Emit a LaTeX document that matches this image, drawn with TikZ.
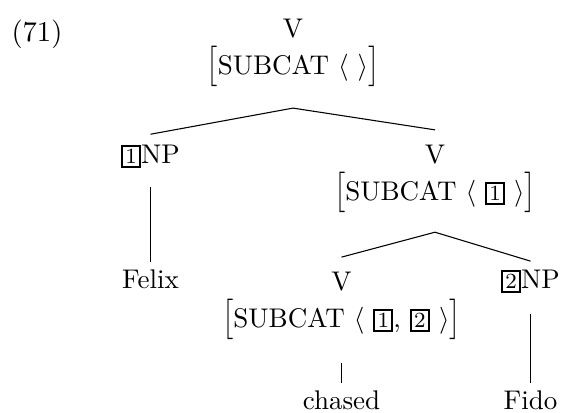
\documentclass[tikz,border=0pt]{standalone}
\usepackage{amsmath}
\usepackage{graphicx}

% boxed tag for structure sharing
\newcommand{\tagbox}[1]{{\setlength{\fboxsep}{0.8pt}\setlength{\fboxrule}{0.8pt}%
  \fbox{\footnotesize #1}}}
% one-feature matrix: SUBCAT list
\newcommand{\lbrk}{\scalebox{1}[1.25]{$\bigl[$}}
\newcommand{\rbrk}{\scalebox{1}[1.25]{$\bigr]$}}
\newcommand{\subcatavm}[1]{\lbrk SUBCAT $\langle$#1$\rangle$\rbrk}

\tikzset{
  cat/.style={inner sep=0pt, font=\normalsize},
  avm/.style={cat, align=center, anchor=north},
  word/.style={cat, anchor=base},
  branch/.style={line width=0.4pt},
}

\begin{document}
\begin{tikzpicture}[x=0.37037pt, y=-0.37037pt]
  \useasboundingbox (0,0) rectangle (561,413);
  % example number
  \node[cat, anchor=base west, font=\fontsize{10.6}{13}\selectfont] (exnum) at (11,42) {(71)};

  % mother
  \node[avm] (vtop) at (293,19) {V\\[1.7pt]\subcatavm{\ }};
  % daughters
  \node[word] (np1) at (150.5,164) {\tagbox{1}NP};
  \node[avm] (vmid) at (435,145) {V\\[1.7pt]\subcatavm{\ \tagbox{1}\ }};
  \node[word] (felix) at (150.5,289) {Felix};
  \node[avm] (vlow) at (341.5,272) {V\\[1.7pt]\subcatavm{\ \tagbox{1}, \tagbox{2}\ }};
  \node[word] (np2) at (530.5,289) {\tagbox{2}NP};
  \node[word] (chased) at (341.5,410) {chased};
  \node[word] (fido) at (530.5,410) {Fido};

  % branches
  \draw[branch] ([yshift=-7.7pt]vtop.south) -- ([yshift=3.9pt]np1.north);
  \draw[branch] ([yshift=-7.7pt]vtop.south) -- ([yshift=5.6pt]vmid.north);
  \draw[branch] ([yshift=-6.9pt]np1.south) -- ([yshift=2.7pt]felix.north);
  \draw[branch] ([yshift=-7pt]vmid.south) -- ([yshift=5.5pt]vlow.north);
  \draw[branch] ([yshift=-7pt]vmid.south) -- ([yshift=3.2pt]np2.north);
  \draw[branch] ([yshift=-8.5pt]vlow.south) -- ([yshift=2.7pt]chased.north);
  \draw[branch] ([yshift=-7.3pt]np2.south) -- ([yshift=2.7pt]fido.north);
\end{tikzpicture}
\end{document}
